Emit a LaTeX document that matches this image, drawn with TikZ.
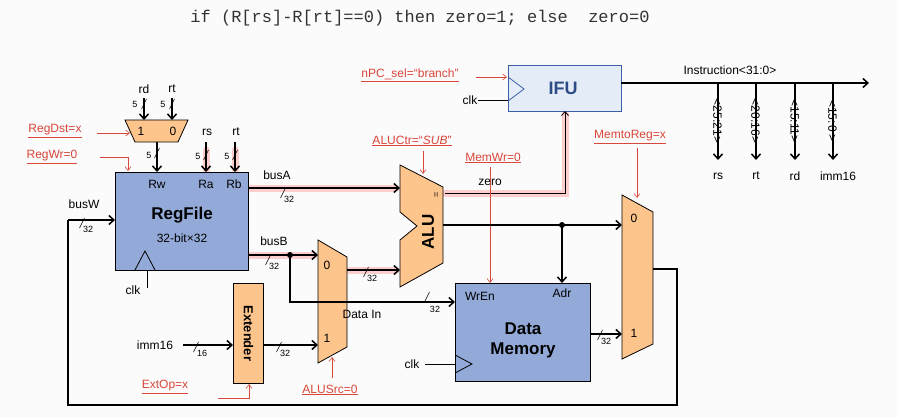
\documentclass[tikz,border=0pt]{standalone}
\usepackage{fontspec}
\setmainfont{Liberation Sans}
\newfontfamily\monof{Liberation Mono}
\usetikzlibrary{arrows.meta}
\definecolor{org}{HTML}{FDC58C}
\definecolor{blu}{HTML}{93AAD8}
\definecolor{rd}{HTML}{D9463A}
\definecolor{ifub}{HTML}{E4ECF7}
\definecolor{ifuo}{HTML}{3A5FA8}
\newcommand\bsl[3]{\draw[line width=0.5pt] ({#1-2.5},{#2+5}) -- ({#1+2.5},{#2-5});
  \node[font=\fontsize{9}{10}\selectfont,anchor=north west,inner sep=0] at ({#1+1},{#2+3}) {#3};}
\begin{document}
\begin{tikzpicture}[x=1pt,y=-1pt,
  lbl/.style={font=\fontsize{12}{14}\selectfont,inner sep=0},
  ctl/.style={font=\fontsize{12}{14}\selectfont,text=rd,inner sep=0},
  bus/.style={line width=1.5pt,-{Straight Barb[length=5pt,width=9pt]}},
  wire/.style={line width=1.5pt},
  carr/.style={rd,line width=0.6pt,-{Straight Barb[length=4pt,width=6pt]}},
  glow/.style={line width=7pt,red!40,opacity=0.45,line cap=round},
  thinw/.style={line width=0.6pt}]
\fill[white!97!gray] (0,0) rectangle (897,417);
\useasboundingbox (0,0) rectangle (897,417);
\node[font=\monof\fontsize{17}{18}\selectfont,text=black!80,inner sep=0] (title) at (420,18) {if (R[rs]-R[rt]==0) then zero=1; else\ \ zero=0};
% glows
\draw[glow] (206,150) -- (206,170);
\draw[glow] (235,150) -- (235,170);
\draw[glow] (250,188) -- (396,188);
\draw[glow] (250,255) -- (314,255);
\draw[glow] (349,270) -- (396,270);
\draw[glow] (445,193) -- (565,193) -- (565,114);
% RegFile
\node[draw,fill=blu,line width=0.8pt,minimum width=133pt,minimum height=98pt,anchor=north west,inner sep=0] (rf) at (115,172) {};
\node[lbl] (rw) at (157,184) {Rw};
\node[lbl] (ra) at (206,184) {Ra};
\node[lbl] (rb) at (234,184) {Rb};
\node[font=\bfseries\fontsize{17}{18}\selectfont,inner sep=0] (rft) at (182,215) {RegFile};
\node[lbl] (rfs) at (182,238) {32-bit×32};
\draw[line width=0.8pt] (135,270) -- (145,251) -- (155,270);
\draw[thinw] (147,270) -- (147,288);
\node[lbl] (clk1) at (133,290) {clk};
% RegDst mux
\draw[fill=org,line width=0.8pt] (125,120) -- (188,120) -- (178,142) -- (135,142) -- cycle;
\node[lbl] (m1) at (141,131) {1};
\node[lbl] (m0) at (173,131) {0};
\node[lbl] (rdl) at (144,89) {rd};
\node[lbl] (rtl) at (172,89) {rt};
\coordinate (rdt) at (144,98); \coordinate (rtt) at (172,98);
\draw[bus] (rdt) -- (144,120); \draw[bus] (rtt) -- (172,120);
\bsl{144}{104}{}\node[font=\fontsize{9}{10}\selectfont] at (135,104) {5};
\bsl{172}{104}{}\node[font=\fontsize{9}{10}\selectfont] at (163,104) {5};
\draw[bus] (157,142) -- (157,172);
\bsl{157}{153}{}\node[font=\fontsize{9}{10}\selectfont] at (149,155) {5};
\node[lbl] (rsl) at (207,132) {rs};
\node[lbl] (rtl2) at (236,132) {rt};
\draw[bus] (206,142) -- (206,172); \draw[bus] (235,142) -- (235,172);
\bsl{206}{155}{}\node[font=\fontsize{9}{10}\selectfont] at (198,156) {5};
\bsl{235}{155}{}\node[font=\fontsize{9}{10}\selectfont] at (227,156) {5};
\node[ctl] (regdst) at (55,131) {\underline{RegDst=x}};
\draw[carr] (97,133) -- (130,133);
\node[ctl] (regwr) at (52,157) {\underline{RegWr=0}};
\draw[carr] (100,157) -- (128,157) -- (128,171);
% ALU
\draw[fill=org,line width=0.8pt] (400,165) -- (443,187) -- (443,263) -- (400,287) -- (400,240) -- (417,226) -- (400,212) -- cycle;
\node[font=\bfseries\fontsize{17}{18}\selectfont,rotate=90,inner sep=0] (alut) at (428,232) {ALU};
\node[font=\fontsize{9}{10}\selectfont,rotate=90,inner sep=0] (eq) at (437,195) {=};
\draw[bus] (248,188) -- (400,188);
\node[lbl] (busa) at (277,175) {busA};
\bsl{283}{193}{32}
% busB
\draw[fill=org,line width=0.8pt] (318,240) -- (347,257) -- (347,347) -- (318,363) -- cycle;
\node[lbl] (s0) at (327,265) {0};
\node[lbl] (s1) at (327,338) {1};
\draw[bus] (248,255) -- (318,255);
\fill (290,255) circle (3pt);
\node[lbl] (busb) at (274,241) {busB};
\bsl{268}{260}{32}
\draw[bus] (347,270) -- (400,270);
\bsl{366}{272}{32}
\draw[bus] (290,255) -- (290,302) -- (455,302);
\node[lbl] (din) at (362,314) {Data In};
\bsl{427}{297}{}\node[font=\fontsize{9}{10}\selectfont] at (435,309) {32};
% Extender
\node[draw,fill=org,line width=0.8pt,minimum width=30pt,minimum height=100pt,anchor=north west,inner sep=0] (ext) at (233,283) {};
\node[font=\bfseries\fontsize{13}{14}\selectfont,rotate=-90,inner sep=0] at (ext.center) {Extender};
\node[lbl] (imm) at (155,345) {imm16};
\draw[bus] (183,345) -- (233,345);
\bsl{196}{347}{16}
\draw[bus] (263,345) -- (318,345);
\bsl{279}{347}{32}
\node[ctl] (extop) at (165,387) {\underline{ExtOp=x}};
\draw[carr] (218,398) -- (249,398) -- (249,384);
\node[ctl] (alusrc) at (330,390) {\underline{ALUSrc=0}};
\draw[carr] (332,378) -- (332,357);
% IFU
\node[draw=ifuo,fill=ifub,line width=0.8pt,minimum width=113pt,minimum height=46pt,anchor=north west,inner sep=0] (ifu) at (508,65) {};
\node[font=\bfseries\fontsize{18}{20}\selectfont,text=ifuo!80!black,inner sep=0] at (563,88) {IFU};
\draw[ifuo,line width=0.8pt] (508,77) -- (524,89) -- (508,101);
\node[lbl] (clk2) at (470,100) {clk};
\draw[thinw] (478,100) -- (508,100);
\node[ctl] (npc) at (410,75) {\underline{nPC\_sel=“branch”}};
\draw[carr] (476,77) -- (507,77);
\draw[line width=0.8pt,-{Straight Barb[length=4pt,width=7pt]}] (445,193) -- (565,193) -- (565,111);
\node[lbl] (zero) at (490,182) {zero};
\node[ctl] (aluctr) at (412,141) {\underline{ALUCtr=“\textit{SUB}”}};
\draw[carr] (423,151) -- (423,174);
\node[ctl] (memwr) at (493,158) {\underline{MemWr=0}};
\draw[carr] (490,167) -- (490,283);
\node[ctl] (mtr) at (630,137) {\underline{MemtoReg=x}};
\draw[carr] (637,148) -- (637,198);
% Instruction
\draw[bus] (621,83) -- (869,83);
\node[lbl] (instr) at (730,70) {Instruction<31:0>};
\foreach \x/\t/\b/\o in {718/{<25:21>}/rs/0,756/{<20:16>}/rt/0,795/{<15:11>}/rd/0,833/{<15:\,0\,>}/imm16/5}{
  \draw[bus] (\x,83) -- (\x,160);
  \node[lbl,rotate=-90,anchor=north] at (\x+4,121) {\t};
  \node[lbl] at (\x+\o,176) {\b};
}
% ALU out
\draw[bus] (443,225) -- (622,225);
\fill (562,225) circle (3pt);
\draw[bus] (562,225) -- (562,283);
% Data memory
\node[draw,fill=blu,line width=0.8pt,minimum width=135pt,minimum height=98pt,anchor=north west,inner sep=0] (dm) at (455,283) {};
\node[lbl] (wren) at (480,296) {WrEn};
\node[lbl] (adr) at (562,293) {Adr};
\node[font=\bfseries\fontsize{17}{18}\selectfont,inner sep=0,align=center] at (523,340) {Data\\[2pt]Memory};
\draw[line width=0.8pt] (455,355) -- (472,364) -- (455,373);
\node[lbl] (clk3) at (412,364) {clk};
\draw[thinw] (425,364) -- (455,364);
% Right mux
\draw[fill=org,line width=0.8pt] (622,195) -- (653,212) -- (653,344) -- (622,359) -- cycle;
\node[lbl] (r0) at (634,218) {0};
\node[lbl] (r1) at (634,333) {1};
\draw[bus] (590,334) -- (622,334);
\bsl{600}{335}{32}
\draw[wire] (653,269) -- (677,269) -- (677,405) -- (68,405) -- (68,220);
\draw[bus] (68,220) -- (115,220);
\node[lbl] (busw) at (84,204) {busW};
\bsl{82}{223}{32}
\end{tikzpicture}
\end{document}
